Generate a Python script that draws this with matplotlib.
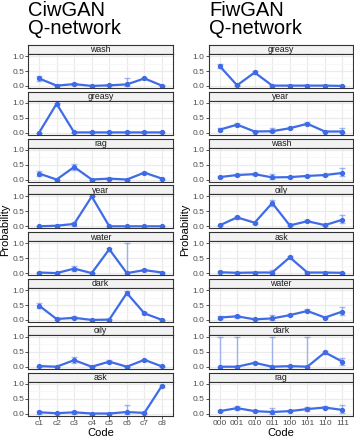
import matplotlib
matplotlib.use("Agg")
import matplotlib.pyplot as plt
import numpy as np

plt.rcParams['font.family'] = ['Liberation Sans', 'DejaVu Sans']

# ---- data ----
ciw_codes = ["c1", "c2", "c3", "c4", "c5", "c6", "c7", "c8"]
ciw_words = ["wash", "greasy", "rag", "year", "water", "dark", "oily", "ask"]
ciw_mean = {
    "wash":   [0.25, 0.01, 0.06, 0.00, 0.02, 0.05, 0.25, 0.01],
    "greasy": [0.00, 0.97, 0.01, 0.01, 0.01, 0.01, 0.01, 0.01],
    "rag":    [0.20, 0.00, 0.42, 0.00, 0.03, 0.00, 0.23, 0.03],
    "year":   [0.00, 0.02, 0.08, 1.00, 0.00, 0.00, 0.00, 0.00],
    "water":  [0.02, 0.00, 0.15, 0.00, 0.80, 0.00, 0.10, 0.02],
    "dark":   [0.48, 0.03, 0.07, 0.00, 0.01, 0.90, 0.22, 0.00],
    "oily":   [0.02, 0.00, 0.22, 0.00, 0.17, 0.00, 0.23, 0.01],
    "ask":    [0.04, 0.01, 0.04, 0.00, 0.00, 0.05, 0.02, 0.93],
}
# lower / upper error lengths
ciw_err_lo = {
    "wash":   [0.07, 0.01, 0.04, 0.00, 0.02, 0.05, 0.03, 0.01],
    "greasy": [0.00, 0.03, 0.01, 0.01, 0.01, 0.01, 0.01, 0.01],
    "rag":    [0.07, 0.00, 0.09, 0.00, 0.03, 0.00, 0.03, 0.03],
    "year":   [0.00, 0.02, 0.06, 0.00, 0.00, 0.00, 0.00, 0.00],
    "water":  [0.02, 0.00, 0.09, 0.00, 0.06, 0.00, 0.04, 0.02],
    "dark":   [0.08, 0.03, 0.05, 0.00, 0.01, 0.08, 0.03, 0.00],
    "oily":   [0.02, 0.00, 0.09, 0.00, 0.04, 0.00, 0.03, 0.01],
    "ask":    [0.04, 0.01, 0.04, 0.00, 0.00, 0.05, 0.02, 0.04],
}
ciw_err_hi = {
    "wash":   [0.08, 0.01, 0.05, 0.00, 0.02, 0.22, 0.03, 0.01],
    "greasy": [0.00, 0.03, 0.01, 0.01, 0.01, 0.01, 0.01, 0.01],
    "rag":    [0.07, 0.00, 0.10, 0.00, 0.03, 0.00, 0.03, 0.03],
    "year":   [0.00, 0.02, 0.07, 0.00, 0.00, 0.00, 0.00, 0.00],
    "water":  [0.02, 0.00, 0.10, 0.00, 0.05, 1.00, 0.04, 0.02],
    "dark":   [0.08, 0.03, 0.05, 0.00, 0.01, 0.06, 0.03, 0.00],
    "oily":   [0.02, 0.00, 0.10, 0.00, 0.04, 0.00, 0.03, 0.01],
    "ask":    [0.04, 0.01, 0.04, 0.00, 0.00, 0.22, 0.02, 0.04],
}

fiw_codes = ["000", "001", "010", "011", "100", "101", "110", "111"]
fiw_words = ["greasy", "year", "wash", "oily", "ask", "water", "dark", "rag"]
fiw_mean = {
    "greasy": [0.67, 0.02, 0.45, 0.01, 0.01, 0.01, 0.01, 0.00],
    "year":   [0.10, 0.27, 0.04, 0.05, 0.15, 0.30, 0.04, 0.04],
    "wash":   [0.08, 0.15, 0.18, 0.07, 0.08, 0.12, 0.15, 0.22],
    "oily":   [0.03, 0.30, 0.12, 0.78, 0.03, 0.17, 0.04, 0.22],
    "ask":    [0.03, 0.01, 0.02, 0.02, 0.53, 0.02, 0.02, 0.01],
    "water":  [0.08, 0.12, 0.02, 0.05, 0.16, 0.30, 0.08, 0.28],
    "dark":   [0.00, 0.00, 0.13, 0.00, 0.02, 0.00, 0.48, 0.17],
    "rag":    [0.08, 0.18, 0.08, 0.05, 0.08, 0.15, 0.20, 0.12],
}
fiw_err_lo = {
    "greasy": [0.07, 0.02, 0.05, 0.01, 0.01, 0.01, 0.01, 0.00],
    "year":   [0.05, 0.06, 0.03, 0.04, 0.04, 0.05, 0.03, 0.04],
    "wash":   [0.04, 0.04, 0.04, 0.05, 0.03, 0.04, 0.03, 0.10],
    "oily":   [0.03, 0.06, 0.03, 0.09, 0.03, 0.04, 0.03, 0.10],
    "ask":    [0.03, 0.01, 0.02, 0.02, 0.04, 0.02, 0.02, 0.01],
    "water":  [0.04, 0.04, 0.02, 0.04, 0.03, 0.05, 0.03, 0.12],
    "dark":   [0.00, 0.00, 0.04, 0.00, 0.02, 0.00, 0.05, 0.10],
    "rag":    [0.04, 0.06, 0.04, 0.05, 0.04, 0.06, 0.04, 0.10],
}
fiw_err_hi = {
    "greasy": [0.07, 0.02, 0.05, 0.01, 0.01, 0.01, 0.01, 0.00],
    "year":   [0.05, 0.06, 0.03, 0.10, 0.04, 0.05, 0.03, 0.12],
    "wash":   [0.04, 0.04, 0.04, 0.10, 0.03, 0.04, 0.03, 0.15],
    "oily":   [0.03, 0.06, 0.03, 0.09, 0.03, 0.04, 0.03, 0.15],
    "ask":    [0.03, 0.01, 0.02, 0.10, 0.04, 0.02, 0.02, 0.01],
    "water":  [0.04, 0.04, 0.02, 0.10, 0.03, 0.05, 0.03, 0.15],
    "dark":   [1.00, 1.00, 0.04, 1.00, 0.02, 1.00, 0.05, 0.12],
    "rag":    [0.04, 0.06, 0.04, 0.12, 0.04, 0.06, 0.04, 0.15],
}

# ---- layout (pixels) ----
W, H = 354, 436
BLUE = "#3F6BE6"
STRIP_TOP = 45
STRIP_H = 9
PANEL_H = 34
STEP = 46.8


def rect(left, top, w, h):
    return [left / W, 1 - (top + h) / H, w / W, h / H]


def draw_column(fig, left, width, title, words, codes, mean, err_lo, err_hi, ylab_x):
    x = np.arange(1, len(codes) + 1)
    n = len(words)
    for i, word in enumerate(words):
        top = STRIP_TOP + i * STEP
        sax = fig.add_axes(rect(left, top, width, STRIP_H))
        sax.set_facecolor("#F2F2F2")
        sax.set_xticks([])
        sax.set_yticks([])
        for sp in sax.spines.values():
            sp.set_color("#333333")
            sp.set_linewidth(0.8)
        sax.text(0.5, 0.45, word, ha="center", va="center", fontsize=6.3,
                 color="#1A1A1A", transform=sax.transAxes)

        ax = fig.add_axes(rect(left, top + STRIP_H, width, PANEL_H))
        ax.set_xlim(0.4, len(codes) + 0.6)
        ax.set_ylim(-0.07, 1.07)
        ax.set_yticks([0.0, 0.5, 1.0])
        ax.set_yticks([0.25, 0.75], minor=True)
        ax.set_yticklabels(["0.0", "0.5", "1.0"])
        ax.set_xticks(x)
        ax.grid(True, which="major", color="#EBEBEB", lw=0.9)
        ax.grid(True, which="minor", axis="y", color="#F4F4F4", lw=0.5)
        ax.set_axisbelow(True)
        ax.tick_params(axis="y", which="major", length=2, width=0.6, color="#333333",
                       labelsize=6, labelcolor="#4D4D4D", pad=1.2)
        ax.tick_params(axis="y", which="minor", length=0)
        if i == n - 1:
            ax.set_xticklabels(codes)
            ax.tick_params(axis="x", length=2, width=0.6, color="#333333",
                           labelsize=6, labelcolor="#4D4D4D", pad=1.2)
            ax.set_xlabel("Code", fontsize=8, labelpad=0.5)
        else:
            ax.set_xticklabels([])
            ax.tick_params(axis="x", length=0)
        for sp in ax.spines.values():
            sp.set_color("#333333")
            sp.set_linewidth(0.8)

        ax.errorbar(x, mean[word], yerr=[err_lo[word], err_hi[word]], fmt="none",
                    ecolor=BLUE, alpha=0.45, elinewidth=1.0, capsize=2)
        ax.plot(x, mean[word], color=BLUE, lw=1.6, marker="o", markersize=2.8)

    fig.text(left / W, 1 - 0.5 / H, title, ha="left", va="top", fontsize=14.5,
             linespacing=1.0, color="black")
    mid = STRIP_TOP + ((n - 1) * STEP + STRIP_H + PANEL_H) / 2
    fig.text(ylab_x / W, 1 - mid / H, "Probability", rotation=90, ha="center",
             va="center", fontsize=8)


fig = plt.figure(figsize=(W / 100, H / 100), dpi=100)
draw_column(fig, 28.5, 144, "CiwGAN\nQ-network", ciw_words, ciw_codes,
            ciw_mean, ciw_err_lo, ciw_err_hi, 5.5)
draw_column(fig, 209, 144, "FiwGAN\nQ-network", fiw_words, fiw_codes,
            fiw_mean, fiw_err_lo, fiw_err_hi, 185.5)

fig.savefig("out.png", dpi=100)
